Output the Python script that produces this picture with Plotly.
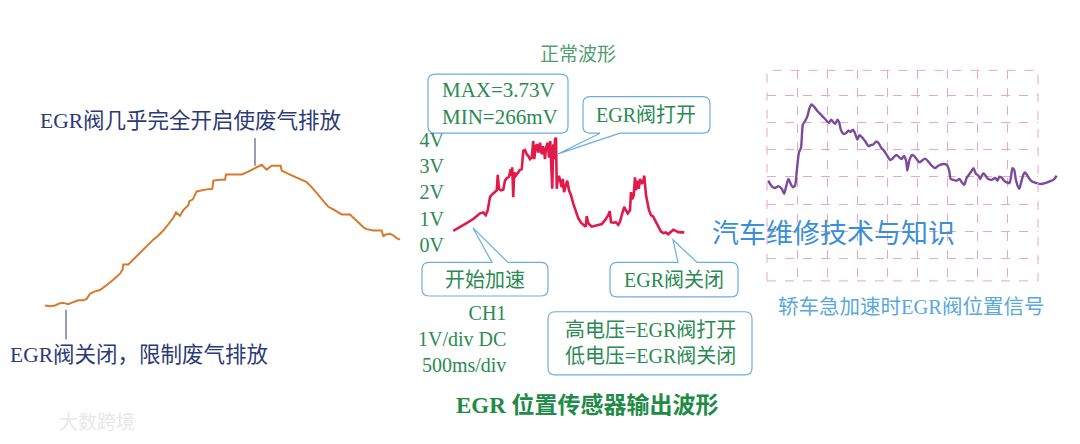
import plotly.graph_objects as go

W, H = 1080, 444

# left sketch: EGR valve opening (%) over time
egr_t = [0.125, 0.25, 0.375, 0.5, 0.583, 0.708, 0.833, 0.958, 1.083, 1.167, 1.25, 1.375,
         1.5, 1.625, 1.75, 1.875, 2.0, 2.067, 2.083, 2.208, 2.333, 2.5, 2.667, 2.833,
         2.958, 3.083, 3.208, 3.333, 3.4, 3.5, 3.583, 3.708, 3.733, 3.817, 3.917, 4.042,
         4.167, 4.308, 4.333, 4.5, 4.625, 4.65, 4.833, 5.042, 5.208, 5.375, 5.542, 5.667,
         5.792, 6.017, 6.042, 6.25, 6.5, 6.667, 6.792, 6.958, 7.083, 7.208, 7.333, 7.458,
         7.542, 7.75, 7.833, 7.958, 8.083, 8.167, 8.333, 8.542, 8.583, 8.625, 8.75, 8.833,
         8.917, 9.0]
egr_pos = [2.3, 1.8, 2.3, 3.9, 4.1, 3.2, 4.6, 5.9, 5.9, 6.9, 10.5, 12.1,
           13.0, 15.5, 18.3, 21.2, 24.4, 27.4, 30.8, 30.8, 34.3, 38.8, 43.4, 48.0,
           50.9, 54.3, 58.7, 63.2, 66.9, 64.6, 68.5, 71.9, 74.7, 75.8, 81.5, 82.4,
           82.9, 83.3, 89.0, 89.5, 89.5, 93.2, 93.2, 93.2, 95.2, 97.5, 100.0, 96.6,
           99.3, 99.3, 95.9, 93.2, 90.2, 87.9, 84.5, 78.8, 74.7, 70.8, 69.0, 66.7,
           65.5, 65.5, 63.2, 60.1, 56.6, 55.3, 54.3, 54.3, 50.2, 51.4, 52.1, 50.9,
           49.1, 48.0]

# middle: EGR position sensor output (V), time in divisions
sens_t = [0.25, 0.45, 0.65, 0.85, 1.05, 1.19, 1.32, 1.45, 1.55, 1.63, 1.72, 1.79,
          1.92, 1.99, 2.03, 2.08, 2.16, 2.25, 2.32, 2.39, 2.48, 2.55, 2.59, 2.61,
          2.65, 2.69, 2.75, 2.83, 2.92, 2.99, 3.05, 3.12, 3.19, 3.25, 3.32, 3.39,
          3.43, 3.45, 3.49, 3.55, 3.6, 3.65, 3.72, 3.79, 3.83, 3.88, 3.92, 3.96,
          4.03, 4.08, 4.13, 4.19, 4.21, 4.25, 4.29, 4.32, 4.36, 4.39, 4.43, 4.48,
          4.53, 4.59, 4.63, 4.68, 4.75, 4.81, 4.88, 4.96, 5.05, 5.15, 5.25, 5.36,
          5.45, 5.55, 5.59, 5.65, 5.79, 5.92, 6.05, 6.19, 6.32, 6.45, 6.51, 6.56,
          6.65, 6.75, 6.85, 6.92, 7.01, 7.09, 7.15, 7.23, 7.32, 7.36, 7.41, 7.47,
          7.52, 7.56, 7.61, 7.67, 7.72, 7.79, 7.84, 7.89, 7.96, 8.03, 8.08, 8.16,
          8.25, 8.35, 8.45, 8.56, 8.65, 8.75, 8.85, 8.96, 9.05, 9.15, 9.25, 9.39,
          9.49]
sens_v = [0.53, 0.63, 0.73, 0.86, 0.98, 1.11, 1.2, 1.23, 1.13, 1.32, 1.82, 1.91,
          2.01, 2.08, 2.67, 2.14, 2.08, 2.1, 2.45, 2.54, 2.6, 2.89, 2.64, 2.96,
          1.82, 2.77, 2.64, 2.77, 2.86, 2.89, 3.59, 3.62, 3.46, 3.4, 3.27, 3.33,
          3.65, 3.96, 3.27, 3.77, 3.84, 3.52, 3.9, 3.46, 3.77, 3.59, 3.27, 3.71,
          3.9, 3.33, 3.96, 2.89, 2.14, 3.84, 3.27, 4.03, 4.09, 2.14, 2.52, 2.64,
          2.39, 2.2, 2.52, 2.01, 2.26, 2.45, 2.08, 1.89, 1.57, 1.26, 1.01, 0.84,
          0.76, 0.69, 1.09, 0.82, 0.69, 0.72, 0.76, 0.79, 0.94, 1.13, 1.28, 0.86,
          0.84, 0.86, 0.76, 0.88, 1.2, 1.45, 1.32, 1.2, 1.32, 2.01, 1.74, 1.89,
          2.58, 2.08, 2.45, 2.14, 2.52, 2.33, 2.39, 2.64, 1.89, 1.45, 1.32, 1.13,
          1.07, 0.88, 0.69, 0.5, 0.44, 0.47, 0.4, 0.5, 0.57, 0.53, 0.48, 0.47,
          0.47]
volt_ticks = [0, 1, 2, 3, 4]
volt_labels = ["0V", "1V", "2V", "3V", "4V"]

# right: scope trace, grid divisions
sig_x = [0.04, 0.16, 0.27, 0.38, 0.49, 0.57, 0.63, 0.71, 0.79, 0.85, 0.93, 0.99,
         1.06, 1.13, 1.19, 1.26, 1.34, 1.41, 1.48, 1.56, 1.67, 1.82, 1.98, 2.06,
         2.13, 2.2, 2.26, 2.34, 2.4, 2.46, 2.54, 2.63, 2.7, 2.78, 2.85, 2.92,
         3.0, 3.07, 3.15, 3.26, 3.37, 3.46, 3.53, 3.62, 3.7, 3.78, 3.89, 3.98,
         4.09, 4.18, 4.25, 4.31, 4.4, 4.47, 4.55, 4.62, 4.66, 4.73, 4.81, 4.88,
         4.97, 5.06, 5.14, 5.25, 5.36, 5.47, 5.58, 5.69, 5.86, 5.97, 6.05, 6.1,
         6.19, 6.3, 6.39, 6.47, 6.55, 6.63, 6.72, 6.8, 6.86, 6.93, 7.02, 7.08,
         7.13, 7.19, 7.28, 7.35, 7.46, 7.58, 7.65, 7.72, 7.8, 7.87, 7.96, 8.05,
         8.1, 8.15, 8.21, 8.26, 8.32, 8.38, 8.44, 8.52, 8.57, 8.63, 8.72, 8.79,
         8.9, 9.07, 9.24, 9.4, 9.51, 9.62]
sig_y = [3.86, 3.65, 3.59, 3.66, 3.56, 3.38, 3.62, 3.92, 3.74, 3.62, 3.68, 4.23,
         4.89, 5.07, 5.92, 6.04, 6.22, 6.52, 6.66, 6.58, 6.42, 6.25, 6.06, 5.98,
         6.1, 6.01, 5.95, 6.1, 5.98, 5.7, 5.58, 5.61, 5.7, 5.65, 5.73, 5.61,
         5.37, 5.53, 5.46, 5.31, 5.13, 5.17, 5.19, 5.29, 5.25, 5.09, 4.95, 4.8,
         4.62, 4.68, 4.77, 4.8, 4.71, 4.65, 4.77, 4.59, 4.23, 4.61, 4.8, 4.77,
         4.65, 4.53, 4.59, 4.67, 4.56, 4.41, 4.32, 4.41, 4.47, 4.44, 4.23, 3.92,
         3.89, 3.86, 3.92, 3.8, 3.71, 3.96, 4.1, 4.23, 4.32, 4.13, 4.04, 3.92,
         4.04, 4.13, 4.01, 3.92, 3.89, 3.96, 3.86, 4.01, 3.96, 3.86, 3.8, 3.77,
         3.98, 4.32, 4.25, 3.92, 3.68, 3.56, 3.8, 4.1, 4.16, 4.08, 3.92, 3.84,
         3.79, 3.74, 3.77, 3.84, 3.89, 4.04]

SERIF = "Liberation Serif, Noto Sans CJK SC, serif"
SANS = "Noto Sans CJK SC, sans-serif"
NAVY = "#2b3a78"
GREEN = "#2a8a52"
BOX = "#6aaee0"
PINK = "#eaa6c8"


def px(x):
    return x / W


def py(y):
    return 1 - y / H


fig = go.Figure()

fig.add_trace(go.Scatter(x=egr_t, y=egr_pos, mode="lines", xaxis="x", yaxis="y",
                         line=dict(color="#d9782d", width=2), hoverinfo="skip"))
fig.add_trace(go.Scatter(x=sens_t, y=sens_v, mode="lines", xaxis="x2", yaxis="y2",
                         line=dict(color="#e01a4b", width=2.6), hoverinfo="skip"))
# empty trace so the scope grid subplot gets drawn
fig.add_trace(go.Scatter(x=[], y=[], xaxis="x3", yaxis="y3"))
fig.add_trace(go.Scatter(x=sig_x, y=sig_y, mode="lines", xaxis="x4", yaxis="y4",
                         line=dict(color="#7b4a9e", width=2.4, shape="spline", smoothing=0.6),
                         hoverinfo="skip"))


def add_text(x, y, text, size, color, family=SERIF, xanchor="center", align="center"):
    fig.add_annotation(x=px(x), y=py(y), xref="paper", yref="paper", text=text,
                       showarrow=False, xanchor=xanchor, yanchor="middle", align=align,
                       font=dict(family=family, size=size, color=color))


def callout(x0, y0, x1, y1, r=7, tail=None):
    def P(x, y):
        return f"{px(x):.5f},{py(y):.5f}"
    d = f"M{P(x0 + r, y0)}"
    if tail and tail[0] == "top":
        _, a, b, tx, ty = tail
        d += f" L{P(a, y0)} L{P(tx, ty)} L{P(b, y0)}"
    d += f" L{P(x1 - r, y0)} Q{P(x1, y0)} {P(x1, y0 + r)}"
    d += f" L{P(x1, y1 - r)} Q{P(x1, y1)} {P(x1 - r, y1)}"
    if tail and tail[0] == "bottom":
        _, a, b, tx, ty = tail
        d += f" L{P(b, y1)} L{P(tx, ty)} L{P(a, y1)}"
    d += f" L{P(x0 + r, y1)} Q{P(x0, y1)} {P(x0, y1 - r)}"
    d += f" L{P(x0, y0 + r)} Q{P(x0, y0)} {P(x0 + r, y0)} Z"
    fig.add_shape(type="path", path=d, xref="paper", yref="paper", fillcolor="white",
                  line=dict(color=BOX, width=1.2), layer="above")


# left panel labels
add_text(190, 120, "EGR阀几乎完全开启使废气排放", 21.5, NAVY)
add_text(139, 357, "EGR阀关闭，限制废气排放", 21.5, NAVY)
for x, ya, yb in [(255, 137, 165), (66, 311, 341)]:
    fig.add_shape(type="line", xref="paper", yref="paper", x0=px(x), x1=px(x),
                  y0=py(ya), y1=py(yb), line=dict(color=NAVY, width=1))

# middle panel callouts
callout(428, 72, 568, 132)
callout(583, 95, 710, 132, tail=("bottom", 600, 620, 558, 153))
callout(422, 263, 548, 297, tail=("top", 492, 508, 473, 228))
callout(610, 263, 738, 298, tail=("top", 678, 697, 673, 240))
callout(548, 313, 752, 377)

add_text(578, 52, "正常波形", 19, "#4f9e6c")
add_text(440, 102, "MAX=3.73V<br>MIN=266mV", 21, GREEN, xanchor="left", align="left")
add_text(646, 114, "EGR阀打开", 20, GREEN)
add_text(485, 281, "开始加速", 20, GREEN)
add_text(674, 281, "EGR阀关闭", 20, GREEN)
add_text(508, 341, "CH1<br>1V/div DC<br>500ms/div", 20, GREEN, xanchor="right", align="right")
add_text(650, 345, "高电压=EGR阀打开<br>低电压=EGR阀关闭", 20, GREEN)
add_text(587, 408, "<b>EGR 位置传感器输出波形</b>", 23, "#1e8c46")

# right panel
fig.add_shape(type="rect", xref="x3 domain", yref="y3 domain", x0=0, x1=1, y0=0, y1=1,
              line=dict(color=PINK, width=1, dash="dash"))
add_text(911, 308, "轿车急加速时EGR阀位置信号", 20.5, "#5aa8dc")
add_text(833, 232, "汽车维修技术与知识", 27, "#3b8fd6", family=SANS)
add_text(97, 423, "大数跨境", 19, "#e8e8e8", family=SANS)

hidden = dict(visible=False, fixedrange=True)
fig.update_layout(
    width=W, height=H,
    margin=dict(l=0, r=0, t=0, b=0),
    paper_bgcolor="white",
    plot_bgcolor="rgba(0,0,0,0)",
    showlegend=False,
    xaxis=dict(domain=[px(40), px(410)], range=[0, 9.25], anchor="y", **hidden),
    yaxis=dict(domain=[py(320), py(100)], range=[-6.85, 143.8], anchor="x", **hidden),
    xaxis2=dict(domain=[px(447), px(697)], range=[0, 10], anchor="y2", **hidden),
    yaxis2=dict(domain=[py(252.95), py(131.05)], range=[-0.3, 4.3], anchor="x2",
                tickmode="array", tickvals=volt_ticks, ticktext=volt_labels,
                showgrid=False, zeroline=False, showline=False, ticks="", fixedrange=True,
                ticklabelstandoff=2,
                tickfont=dict(family=SERIF, size=20, color=GREEN)),
    xaxis3=dict(domain=[px(767), px(1038)], range=[0, 9], anchor="y3", dtick=1, tick0=0,
                showgrid=True, gridcolor=PINK, gridwidth=1, griddash="dash",
                showticklabels=False, zeroline=False, showline=False, ticks=""),
    yaxis3=dict(domain=[py(281.7), py(68.3)], range=[0.18, 7.91], anchor="x3", dtick=1,
                tick0=0, showgrid=True, gridcolor=PINK, gridwidth=1, griddash="dash",
                showticklabels=False, zeroline=False, showline=False, ticks=""),
    xaxis4=dict(domain=[px(767), px(1059.1)], range=[0, 9.7], anchor="y4", **hidden),
    yaxis4=dict(domain=[py(281.7), py(68.3)], range=[0.18, 7.91], anchor="x4", **hidden),
)

fig.write_html("out.html", config={"displayModeBar": False},
               post_script="document.body.style.margin='0';")
